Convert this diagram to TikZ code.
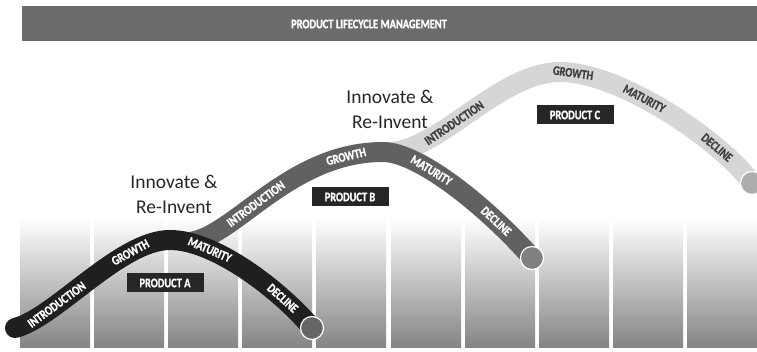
\documentclass[tikz,border=0pt]{standalone}
\usepackage{fontspec}
\setmainfont{Carlito}
\newfontfamily\narrowfont{Carlito Bold}[FakeStretch = 0.8, FakeBold = 1.2]
\usepackage{tikz}

\begin{document}
\begin{tikzpicture}[x = 1pt, y = -1pt]
		\tikzstyle{column} = [top color = white, middle color = black!20, bottom color = black!48]
		\tikzstyle{band} = [line width = 20pt]
		\tikzstyle{stage} = [font = \narrowfont\fontsize{13}{14}\selectfont, text = white, inner sep = 0pt, sloped]
		\tikzstyle{ball} = [circle, minimum size = 23pt, inner sep = 0pt, draw = white, line width = 1.2pt]
		\tikzstyle{product} = [fill = black!85, text = white, font = \narrowfont\fontsize{13}{14}\selectfont, minimum width = 77pt, minimum height = 19pt, inner sep = 0pt]
		\tikzstyle{motto} = [font = \fontsize{19.5}{25}\selectfont, text = black!85, align = center]
		
		\useasboundingbox (0,0) rectangle (757,352);
		
		% header bar
		\fill[black!58] (22,6) rectangle (757,41);
		\node[text = white, font = \narrowfont\fontsize{13}{15}\selectfont] at (369,24) (title) {PRODUCT LIFECYCLE MANAGEMENT};
		
		% columns
		\shade[column] (20,218) rectangle (90,347);
		\shade[column] (94,218) rectangle (164,347);
		\shade[column] (168,218) rectangle (238,347);
		\shade[column] (242,218) rectangle (312,347);
		\shade[column] (316,218) rectangle (386,347);
		\shade[column] (391,218) rectangle (461,347);
		\shade[column] (465,218) rectangle (535,347);
		\shade[column] (539,218) rectangle (609,347);
		\shade[column] (613,218) rectangle (683,347);
		\shade[column] (687,218) rectangle (757,347);
		
		% product C
		\draw[band, black!16] (390,152) .. controls (440,150) and (500,72) .. (560,72)
			node[stage, text = black!75, pos = 0.4] (introC) {INTRODUCTION}
			.. controls (620,72) and (720,140) .. (752,183)
			node[stage, text = black!75, pos = 0.07] (growthC) {GROWTH}
			node[stage, text = black!75, pos = 0.4] (maturityC) {MATURITY}
			node[stage, text = black!75, pos = 0.75] (declineC) {DECLINE};
		\node[ball, fill = black!32] at (752,183) (endC) {};
		
		% product B
		\draw[band, black!62] (190,242) .. controls (235,236) and (290,152) .. (383,152)
			node[stage, pos = 0.43] (introB) {INTRODUCTION}
			node[stage, pos = 0.86] (growthB) {GROWTH}
			.. controls (420,152) and (490,210) .. (532,258)
			node[stage, pos = 0.35] (maturityB) {MATURITY}
			node[stage, pos = 0.75] (declineB) {DECLINE};
		\node[ball, fill = black!50] at (532,258) (endB) {};
		
		% product A
		\draw[band, black!88, line cap = round] (15,328) .. controls (55,318) and (120,240) .. (170,240)
			node[stage, pos = 0.3] (introA) {INTRODUCTION}
			node[stage, pos = 0.75] (growthA) {GROWTH}
			.. controls (215,240) and (280,290) .. (312,328)
			node[stage, pos = 0.27] (maturityA) {MATURITY}
			node[stage, pos = 0.75] (declineA) {DECLINE};
		\node[ball, fill = black!60] at (312,328) (endA) {};
		
		\node[product] at (165,283) (prodA) {PRODUCT A};
		\node[product] at (350,197) (prodB) {PRODUCT B};
		\node[product] at (575,115) (prodC) {PRODUCT C};
		
		\node[motto] at (174,194) (mottoA) {Innovate \&\\Re-Invent};
		\node[motto] at (390,109) (mottoB) {Innovate \&\\Re-Invent};
\end{tikzpicture}
\end{document}
